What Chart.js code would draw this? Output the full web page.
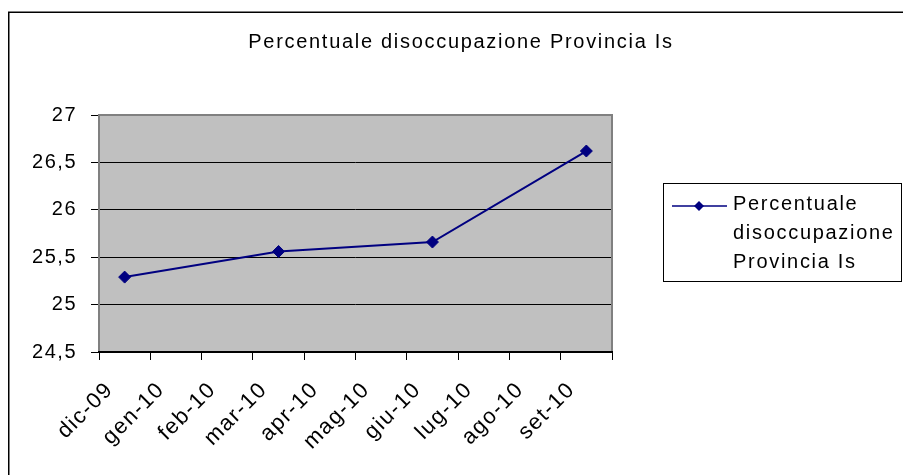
<!DOCTYPE html>
<html><head><meta charset="utf-8">
<script src="https://cdn.jsdelivr.net/npm/chart.js@4"></script>
<style>html,body{margin:0;padding:0;background:#fff}canvas{display:block}</style>
</head><body>
<canvas id="c" width="903" height="475"></canvas>
<script>
const chartTitle = 'Percentuale disoccupazione Provincia Is';
const seriesName = 'Percentuale disoccupazione Provincia Is';
const legendLines = ['Percentuale', 'disoccupazione', 'Provincia Is'];
const monthLabels = ['dic-09','gen-10','feb-10','mar-10','apr-10','mag-10','giu-10','lug-10','ago-10','set-10'];
const dataMonths = ['dic-09','mar-10','giu-10','set-10'];
const dataValues = [25.29, 25.56, 25.66, 26.62];
const yMin = 24.5, yMax = 27, yStep = 0.5;

const FONT = '"Liberation Sans", Arial, sans-serif';
const SPACING = '1.5px';
const NAVY = '#000080';

const spacingPlugin = {
  id: 'spacing',
  beforeUpdate(chart){ chart.ctx.letterSpacing = SPACING; },
  beforeLayout(chart){ chart.ctx.letterSpacing = SPACING; },
  beforeDraw(chart){ chart.ctx.letterSpacing = SPACING; }
};

const framePlugin = {
  id: 'frame',
  beforeDraw(chart) {
    const {ctx, chartArea: a} = chart;
    ctx.save();
    ctx.fillStyle = '#fff';
    ctx.fillRect(0, 0, chart.width, chart.height);
    ctx.strokeStyle = '#000';
    ctx.lineWidth = 1.5;
    ctx.strokeRect(8.75, 12.25, 2000, 2000);
    ctx.fillStyle = '#C0C0C0';
    ctx.fillRect(a.left, a.top, a.right - a.left, a.bottom - a.top);
    ctx.restore();
  },
  beforeDatasetsDraw(chart) {
    const {ctx, chartArea: a} = chart;
    ctx.save();
    ctx.strokeStyle = '#808080';
    ctx.lineWidth = 2;
    ctx.beginPath();
    ctx.moveTo(a.left, a.bottom);
    ctx.lineTo(a.left, a.top);
    ctx.lineTo(a.right, a.top);
    ctx.lineTo(a.right, a.bottom);
    ctx.stroke();
    ctx.strokeStyle = '#000';
    ctx.lineWidth = 2;
    ctx.beginPath();
    ctx.moveTo(a.left - 1, a.bottom);
    ctx.lineTo(a.right + 1, a.bottom);
    ctx.stroke();
    ctx.restore();
  },
  afterDraw(chart) {
    const {ctx} = chart;
    ctx.save();
    ctx.letterSpacing = '1.7px';
    ctx.fillStyle = '#000';
    ctx.font = '20px ' + FONT;
    ctx.textAlign = 'center';
    ctx.textBaseline = 'alphabetic';
    ctx.fillText(chartTitle, 461, 48);
    // legend box
    ctx.strokeStyle = '#000';
    ctx.lineWidth = 1;
    ctx.strokeRect(663.5, 183.5, 238, 98);
    ctx.strokeStyle = NAVY;
    ctx.lineWidth = 1.5;
    ctx.beginPath();
    ctx.moveTo(672, 206);
    ctx.lineTo(727, 206);
    ctx.stroke();
    ctx.fillStyle = NAVY;
    ctx.beginPath();
    ctx.moveTo(699 - 5, 206);
    ctx.lineTo(699, 201);
    ctx.lineTo(699 + 5, 206);
    ctx.lineTo(699, 211);
    ctx.closePath();
    ctx.fill();
    ctx.fillStyle = '#000';
    ctx.textAlign = 'left';
    legendLines.forEach((t, i) => ctx.fillText(t, 733, 210 + i * 29));
    ctx.restore();
  }
};

const points = dataMonths.map((m, i) => ({x: monthLabels.indexOf(m) + 0.5, y: dataValues[i]}));

new Chart(document.getElementById('c'), {
  type: 'line',
  data: {
    datasets: [{
      label: seriesName,
      data: points,
      borderColor: NAVY,
      backgroundColor: NAVY,
      borderWidth: 2,
      pointStyle: 'rectRot',
      pointRadius: 6,
      pointBorderWidth: 1,
      pointBorderColor: NAVY,
      pointBackgroundColor: NAVY,
      tension: 0
    }]
  },
  options: {
    responsive: false,
    animation: false,
    devicePixelRatio: 1,
    layout: {padding: {left: 0, right: 291, top: 115, bottom: 0}},
    plugins: {legend: {display: false}, title: {display: false}, tooltip: {enabled: false}},
    scales: {
      x: {
        type: 'linear', min: 0, max: monthLabels.length,
        afterFit(s) { s.height = 123; },
        ticks: {
          stepSize: 1, autoSkip: false, maxRotation: 45, minRotation: 45, padding: 17, labelOffset: 11,
          color: '#000', font: {family: FONT, size: 22},
          callback: (v) => monthLabels[v] ?? ''
        },
        grid: {drawOnChartArea: false, drawTicks: true, tickLength: 8, color: '#000', lineWidth: 1},
        border: {display: false}
      },
      y: {
        min: yMin, max: yMax,
        afterFit(s) { s.width = 99; },
        ticks: {
          stepSize: yStep, padding: 14, color: '#000', font: {family: FONT, size: 20},
          callback: (v) => String(v).replace('.', ',')
        },
        grid: {color: '#000', tickLength: 8, lineWidth: 1},
        border: {display: false}
      }
    }
  },
  plugins: [spacingPlugin, framePlugin]
});
</script>
</body></html>
